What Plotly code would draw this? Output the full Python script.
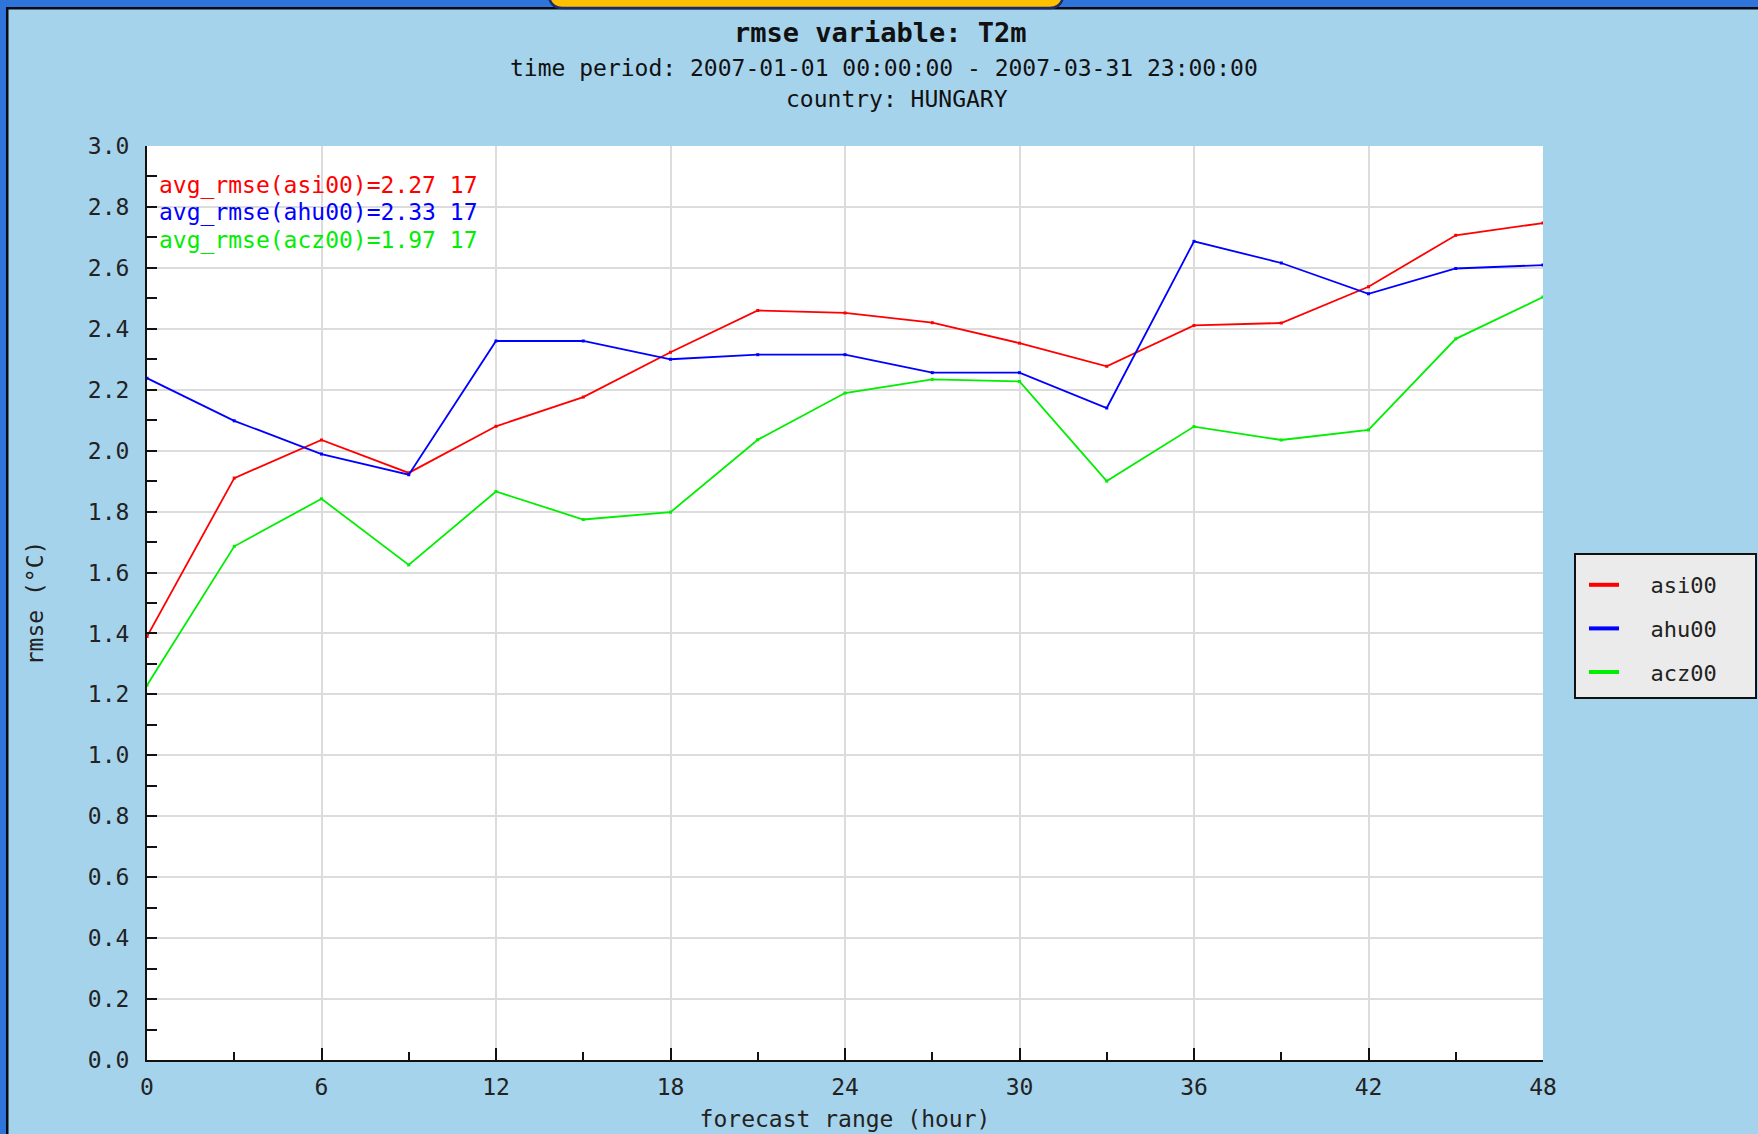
import numpy as np
import plotly.graph_objects as go

# ---------------- data ----------------
hours = [0, 3, 6, 9, 12, 15, 18, 21, 24, 27, 30, 33, 36, 39, 42, 45, 48]
asi00 = [1.39, 1.91, 2.035, 1.927, 2.08, 2.176, 2.323, 2.46, 2.452, 2.42, 2.353, 2.277, 2.411, 2.419, 2.538, 2.707, 2.747]
ahu00 = [2.238, 2.098, 1.989, 1.921, 2.36, 2.36, 2.30, 2.315, 2.315, 2.256, 2.256, 2.14, 2.687, 2.616, 2.515, 2.598, 2.609]
acz00 = [1.23, 1.686, 1.842, 1.625, 1.866, 1.774, 1.798, 2.036, 2.189, 2.234, 2.227, 1.90, 2.079, 2.035, 2.068, 2.367, 2.504]
series_names = ["asi00", "ahu00", "acz00"]
series_values = [asi00, ahu00, acz00]
series_colors = ["#FF0000", "#0000FF", "#00EE00"]
x_ticks = [0, 6, 12, 18, 24, 30, 36, 42, 48]
title_lines = ["rmse variable: T2m",
               "time period: 2007-01-01 00:00:00 - 2007-03-31 23:00:00",
               "country: HUNGARY"]
x_title = "forecast range (hour)"
y_title = "rmse (°C)"

# ---------------- layout constants ----------------
W, H = 1758, 1134
L, R, T, B = 147, 215, 146, 74
PW, PH = W - L - R, H - T - B
FONT = "DejaVu Sans Mono"
FS = 23
BG = "#A6D3EC"
NB = "\u00a0"


def px(xp):
    return (xp - L) / PW


def py(yp):
    return (H - B - yp) / PH


fig = go.Figure()

for name, vals, col in zip(series_names, series_values, series_colors):
    fig.add_trace(go.Scatter(
        x=hours, y=vals, mode="lines+markers", name=name,
        line=dict(color=col, width=1.8),
        marker=dict(color=col, size=3, symbol="square"),
        showlegend=False,
    ))
# legend-only traces with thicker sample lines
for i, (name, col) in enumerate(zip(series_names, series_colors)):
    fig.add_trace(go.Scatter(
        x=[None], y=[None], mode="lines", name=NB * 2 + name,
        line=dict(color=col, width=4), legendgroup=f"g{i}", showlegend=True,
    ))

annotations = []
# title lines
title_y = [32.5, 68.4, 98.7]
title_x = [880, 884, 897]
for i, (txt, xx, yy) in enumerate(zip(title_lines, title_x, title_y)):
    annotations.append(dict(
        text=f"<b>{txt}</b>" if i == 0 else txt,
        x=px(xx), y=py(yy), xref="paper", yref="paper",
        xanchor="center", yanchor="middle", showarrow=False,
        font=dict(family=FONT, size=27 if i == 0 else FS, color="#111111"),
    ))
# avg annotations
avg_y = [185, 212.5, 240]
for name, vals, col, yy in zip(series_names, series_values, series_colors, avg_y):
    annotations.append(dict(
        text=f"avg_rmse({name})={np.mean(vals):.2f} {len(vals)}",
        x=px(157), y=py(yy), xref="paper", yref="paper",
        xanchor="left", yanchor="middle", showarrow=False,
        font=dict(family=FONT, size=FS, color=col),
    ))

shapes = [
    # top blue band + black line
    dict(type="rect", xref="paper", yref="paper", x0=px(0), x1=px(W), y0=py(0), y1=py(7),
         fillcolor="#2F74D8", line=dict(width=0), layer="above"),
    dict(type="rect", xref="paper", yref="paper", x0=px(6), x1=px(W), y0=py(7), y1=py(9.5),
         fillcolor="#0A0A14", line=dict(width=0), layer="above"),
    # left blue band + black line
    dict(type="rect", xref="paper", yref="paper", x0=px(0), x1=px(6), y0=py(H), y1=py(0),
         fillcolor="#2F74D8", line=dict(width=0), layer="above"),
    dict(type="rect", xref="paper", yref="paper", x0=px(6), x1=px(8.5), y0=py(H), y1=py(7),
         fillcolor="#0A0A14", line=dict(width=0), layer="above"),
    # orange tab
    dict(type="path", xref="paper", yref="paper",
         path=(f"M {px(549)},{py(-2)} Q {px(552)},{py(8)} {px(562)},{py(8)} "
               f"L {px(1050)},{py(8)} Q {px(1060)},{py(8)} {px(1063)},{py(-2)} Z"),
         fillcolor="#FFC000", line=dict(color="#1B2A6B", width=2.5), layer="above"),
    # legend box
    dict(type="rect", xref="paper", yref="paper", x0=px(1575), x1=px(1756), y0=py(698), y1=py(554),
         fillcolor="#EBEBEB", line=dict(color="#111111", width=2), layer="above"),
]

fig.update_layout(
    width=W, height=H,
    margin=dict(l=L, r=R, t=T, b=B, autoexpand=False),
    paper_bgcolor=BG, plot_bgcolor="white",
    font=dict(family=FONT, size=FS, color="#111111"),
    annotations=annotations, shapes=shapes,
    legend=dict(
        x=px(1584), y=py(564), xanchor="left", yanchor="top",
        bgcolor="rgba(0,0,0,0)", borderwidth=0,
        font=dict(family=FONT, size=22, color="#222222"),
        tracegroupgap=12, itemwidth=30,
    ),
    hovermode=False,
)

fig.update_xaxes(
    range=[0, 48], tickvals=x_ticks, ticks="inside", ticklen=12, tickwidth=2, tickcolor="#111111",
    minor=dict(dtick=3, tick0=0, ticks="inside", ticklen=8, tickwidth=2, tickcolor="#111111", showgrid=False),
    showgrid=True, gridcolor="#DCDCDC", gridwidth=2, zeroline=False,
    showline=True, linecolor="#111111", linewidth=2,
    tickfont=dict(family=FONT, size=FS, color="#222222"), ticklabelstandoff=5,
    title=dict(text=x_title, font=dict(family=FONT, size=FS, color="#222222"), standoff=12),
    fixedrange=True,
)
fig.update_yaxes(
    range=[0, 3], dtick=0.2, tick0=0, tickformat=".1f",
    ticks="inside", ticklen=10, tickwidth=2, tickcolor="#111111",
    minor=dict(dtick=0.1, tick0=0, ticks="inside", ticklen=10, tickwidth=2, tickcolor="#111111", showgrid=False),
    showgrid=True, gridcolor="#DCDCDC", gridwidth=2, zeroline=False,
    showline=True, linecolor="#111111", linewidth=2,
    tickfont=dict(family=FONT, size=FS, color="#222222"), ticklabelstandoff=11,
    title=dict(text=y_title, font=dict(family=FONT, size=FS, color="#222222"), standoff=38),
    fixedrange=True,
)

fig.write_html("out.html", config={"displayModeBar": False},
               post_script="document.body.style.margin='0';document.body.style.overflow='hidden';")
